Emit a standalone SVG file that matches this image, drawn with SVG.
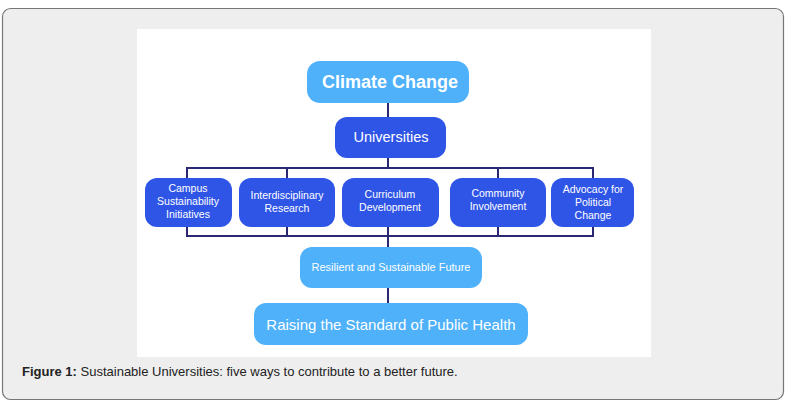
<svg xmlns="http://www.w3.org/2000/svg" width="796" height="411" viewBox="0 0 796 411">
<style>
.t{font-family:"Liberation Sans",Arial,sans-serif;fill:#fff;text-anchor:middle}
.light{fill:#4EB1FA}
.dark{fill:#2F55E6}
.c{stroke:#2A2873;stroke-width:2;fill:none}
.cap{font-family:"Liberation Sans",Arial,sans-serif;font-size:13px;fill:#222}
</style>
<rect x="0" y="0" width="796" height="411" fill="#ffffff"/>
<rect x="2.5" y="8.5" width="781" height="391" rx="8" fill="#eeeeee" stroke="#777" stroke-width="1.2"/>
<rect x="137" y="29" width="514" height="328" fill="#ffffff"/>
<g id="connectors" class="c">
<line x1="388" y1="103" x2="388" y2="117"/>
<line x1="388" y1="158" x2="388" y2="168"/>
<polyline points="187,178 187,168 593,168 593,178"/>
<line x1="287" y1="168" x2="287" y2="178"/>
<line x1="498" y1="168" x2="498" y2="178"/>
<polyline points="187,227 187,236 593,236 593,227"/>
<line x1="287" y1="227" x2="287" y2="236"/>
<line x1="498" y1="227" x2="498" y2="236"/>
<line x1="388" y1="227" x2="388" y2="247"/>
<line x1="388" y1="288" x2="388" y2="303"/>
</g>
<g id="climate">
<rect class="light" x="307" y="61" width="162" height="42" rx="13"/>
<text class="t" x="390" y="88" font-size="18" font-weight="bold">Climate Change</text>
</g>
<g id="universities">
<rect class="dark" x="335" y="117" width="111" height="41" rx="12"/>
<text class="t" x="391" y="142" font-size="14.5">Universities</text>
</g>
<g id="campus">
<rect class="dark" x="145" y="178" width="87" height="49" rx="12"/>
<text class="t" x="188" y="192" font-size="10.5">Campus</text>
<text class="t" x="188" y="205" font-size="10.5">Sustainability</text>
<text class="t" x="188" y="218" font-size="10.5">Initiatives</text>
</g>
<g id="interdisciplinary">
<rect class="dark" x="239" y="178" width="96" height="49" rx="12"/>
<text class="t" x="287" y="199" font-size="10.5">Interdisciplinary</text>
<text class="t" x="287" y="212" font-size="10.5">Research</text>
</g>
<g id="curriculum">
<rect class="dark" x="342" y="178" width="97" height="49" rx="12"/>
<text class="t" x="390" y="198" font-size="10.5">Curriculum</text>
<text class="t" x="390" y="211" font-size="10.5">Development</text>
</g>
<g id="community">
<rect class="dark" x="450" y="178" width="96" height="49" rx="12"/>
<text class="t" x="498" y="197" font-size="10.5">Community</text>
<text class="t" x="498" y="210" font-size="10.5">Involvement</text>
</g>
<g id="advocacy">
<rect class="dark" x="551" y="178" width="83" height="49" rx="12"/>
<text class="t" x="593" y="193" font-size="10.5">Advocacy for</text>
<text class="t" x="593" y="206" font-size="10.5">Political</text>
<text class="t" x="593" y="219" font-size="10.5">Change</text>
</g>
<g id="resilient">
<rect class="light" x="300" y="247" width="182" height="41" rx="12"/>
<text class="t" x="391" y="271" font-size="11">Resilient and Sustainable Future</text>
</g>
<g id="raising">
<rect class="light" x="254" y="303" width="274" height="42" rx="12"/>
<text class="t" x="391" y="330" font-size="15">Raising the Standard of Public Health</text>
</g>
<text class="cap" x="22" y="376"><tspan font-weight="bold">Figure 1:</tspan> Sustainable Universities: five ways to contribute to a better future.</text>
</svg>
